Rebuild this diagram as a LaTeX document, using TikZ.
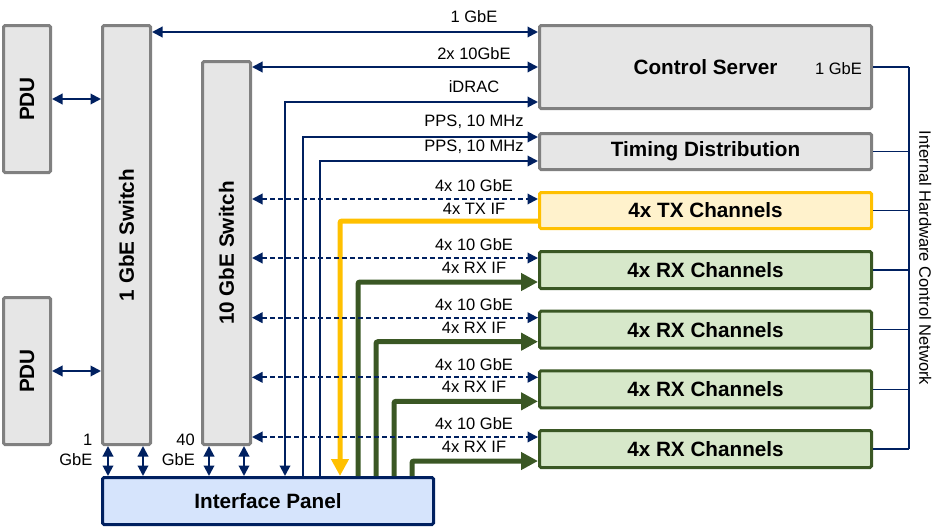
\documentclass[tikz,border=0pt]{standalone}
\usepackage{fontspec}
\setmainfont{Liberation Sans}
\usepackage{tikz}
\usetikzlibrary{positioning,arrows.meta,calc}
\usepackage{xcolor}
\definecolor{navy}{HTML}{002060}
\definecolor{frame}{HTML}{808080}
\definecolor{panel}{HTML}{E6E6E6}
\definecolor{txline}{HTML}{FFC000}
\definecolor{txfill}{HTML}{FFF2CC}
\definecolor{rxline}{HTML}{3A5724}
\definecolor{rxfill}{HTML}{D7E8CA}
\definecolor{ipfill}{HTML}{D6E4FC}
\newcommand{\tagsize}{\fontsize{16.5}{20}\selectfont}
\newcommand{\titlesize}{\fontsize{20.7}{24}\selectfont\bfseries}
\tikzset{
  unit/.style={draw=frame,fill=panel,line width=3pt,rounded corners=1.5pt,inner sep=0pt,font=\titlesize},
  txunit/.style={unit,draw=txline,fill=txfill},
  rxunit/.style={unit,draw=rxline,fill=rxfill},
  ipunit/.style={unit,draw=navy,fill=ipfill},
  link/.style={draw=navy,line width=2pt},
  eth/.style={link,dash pattern=on 5pt off 3pt,<->},
  bus/.style={draw=navy,line width=1.5pt},
  txif/.style={draw=txline,line width=5pt,rounded corners=2pt,-{Triangle[length=17pt,width=17pt]}},
  rxif/.style={draw=rxline,line width=5pt,rounded corners=2pt,-{Triangle[length=17pt,width=17pt]}},
  tag/.style={font=\tagsize,inner sep=0pt,above=6pt,xshift=-64pt}
}

\begin{document}
\begin{tikzpicture}[x=1pt,y=-1pt,>={Triangle[length=10.5pt,width=10.5pt]}]
    \useasboundingbox (0,0) rectangle (945,528);
    \node[unit,minimum width=47pt,minimum height=147pt] (pduA) at (27,99) {\rotatebox{90}{PDU}};
    \node[unit,minimum width=47pt,minimum height=147pt] (pduB) at (27,371) {\rotatebox{90}{PDU}};
    \node[unit,minimum width=48pt,minimum height=419pt] (sw1) at (126.5,235) {\rotatebox{90}{1 GbE Switch}};
    \node[unit,minimum width=48pt,minimum height=383pt] (sw10) at (226.5,253) {\rotatebox{90}{10 GbE Switch}};
    \node[unit,minimum width=332pt,minimum height=83pt] (cs) at (705.5,67) {Control Server};
    \node[unit,minimum width=332pt,minimum height=36pt] (td) at (705.5,151.5) {Timing Distribution};
    \node[txunit,minimum width=332pt,minimum height=36pt] (tx) at (705.5,210.5) {4x TX Channels};
    \foreach \i/\y in {1/270,2/329.7,3/389.3,4/449}
      \node[rxunit,minimum width=332pt,minimum height=37pt] (rx\i) at (705.5,\y) {4x RX Channels};
    \node[ipunit,minimum width=331pt,minimum height=47pt] (ip) at (268,501) {Interface Panel};
    \node[font=\tagsize,anchor=east,inner sep=0pt] (csport) at ([xshift=-11pt,yshift=-1.5pt]cs.east) {1 GbE};

    \draw[link,<->] (pduA.east) -- (pduA.east -| sw1.west);
    \draw[link,<->] (pduB.east) -- (pduB.east -| sw1.west);
    \draw[link,<->] ([xshift=7pt]sw1.south west) -- ([xshift=7pt]sw1.south west |- ip.north);
    \draw[link,<->] ([xshift=-9pt]sw1.south east) -- ([xshift=-9pt]sw1.south east |- ip.north);
    \draw[link,<->] ([xshift=8pt]sw10.south west) -- ([xshift=8pt]sw10.south west |- ip.north);
    \draw[link,<->] ([xshift=-8pt]sw10.south east) -- ([xshift=-8pt]sw10.south east |- ip.north);
    \node[font=\tagsize,align=right,anchor=north east,inner sep=0pt] (gbe1) at ([xshift=-8.5pt,yshift=12pt]sw1.south west) {1\\GbE};
    \node[font=\tagsize,align=right,anchor=north east,inner sep=0pt] (gbe40) at ([xshift=-6pt,yshift=12pt]sw10.south west) {40\\GbE};

    \draw[link,<->] ([yshift=-8pt]sw1.north east) -- ([yshift=-8pt]sw1.north east -| cs.west) node[tag,above=8pt] {1 GbE};
    \draw[link,<->] (sw10.east |- cs.west) -- (cs.west) node[tag] {2x 10GbE};
    \draw[link,<->] ([xshift=184pt]ip.north west) |- ([yshift=8pt]cs.south west) node[tag,above=8pt] {iDRAC};
    \draw[link,->] ([xshift=202pt]ip.north west) |- ([yshift=14.5pt]td.west) node[tag,above=7.5pt] {PPS, 10 MHz};
    \draw[link,->] ([xshift=219pt]ip.north west) |- ([yshift=-9.5pt]td.west) node[tag] {PPS, 10 MHz};

    \draw[txif] ([yshift=-10.5pt]tx.west) node[tag,above=4pt] {4x TX IF} -| ([xshift=239pt]ip.north west);
    \foreach \i/\dx in {1/257,2/275,3/293,4/311}
      \draw[rxif] ([xshift=\dx pt]ip.north west) |- ([yshift=-12pt]rx\i.west) node[tag] {4x RX IF};

    \draw[eth] ([yshift=11.5pt]sw10.east |- tx.west) -- ([yshift=11.5pt]tx.west) node[tag] {4x 10 GbE};
    \foreach \i in {1,...,4}
      \draw[eth] ([yshift=12pt]sw10.east |- rx\i.west) -- ([yshift=12pt]rx\i.west) node[tag] {4x 10 GbE};

    \coordinate (bustop) at ([xshift=36pt]cs.east);
    \coordinate (busend) at (bustop |- rx4.east);
    \draw[bus] (bustop) -- (busend);
    \foreach \b in {cs,td,tx,rx1,rx2,rx3,rx4}
      \draw[bus] (\b.east) -- (bustop |- \b.east);
    \node[font=\tagsize,inner sep=0pt,right=10pt] (netlbl) at ($(bustop)!0.5!(busend)$) {\rotatebox{-90}{Internal Hardware Control Network}};
  \end{tikzpicture}
\end{document}
